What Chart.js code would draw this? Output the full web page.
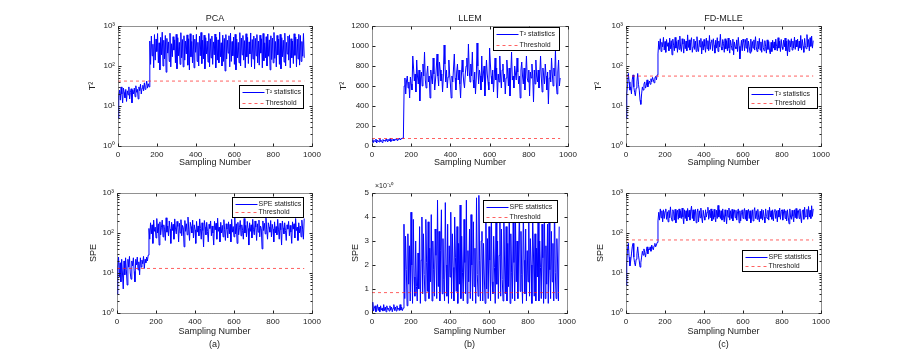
<!DOCTYPE html>
<html>
<head>
<meta charset="utf-8">
<script src="https://cdn.jsdelivr.net/npm/chart.js@4.4.1/dist/chart.umd.min.js"></script>
<style>
  html, body { margin: 0; padding: 0; background: #fff; }
  #fig { position: relative; width: 906px; height: 352px; overflow: hidden; }
  #fig canvas { position: absolute; }
</style>
</head>
<body>
<div id="fig"></div>
<script>
// one stored point every 4 samples; first 41 points = normal operation, the rest = fault
const SAMPLE_STEP = 4;

// --- T2 statistics -------------------------------------------------------
const pcaT2 = [
  5, 18, 25, 14, 30, 20, 12, 28, 22, 16,
  26, 13, 24, 19, 30, 15, 22, 27, 12, 25,
  20, 28, 17, 32, 22, 26, 15, 30, 24, 35,
  20, 28, 33, 24, 38, 26, 32, 42, 28, 36,
  30,
  420, 110, 560, 180, 350, 90, 610, 140, 470, 230,
  650, 120, 380, 80, 520, 190, 700, 100, 440, 150,
  580, 70, 490, 210, 400, 130, 660, 95, 360, 170,
  540, 250, 450, 120, 620, 85, 510, 180, 390, 110,
  680, 160, 460, 95, 570, 140, 420, 200, 600, 105,
  480, 80, 640, 170, 410, 120, 590, 90, 470, 220,
  620, 130, 390, 100, 560, 180, 690, 115, 440, 150,
  590, 85, 510, 200, 420, 125, 650, 95, 480, 160,
  560, 110, 400, 190, 630, 90, 520, 140, 450, 120,
  700, 170, 380, 100, 590, 130, 490, 75, 610, 150,
  440, 210, 570, 95, 660, 130, 410, 180, 530, 110,
  620, 80, 470, 160, 390, 120, 680, 100, 500, 190,
  580, 140, 430, 90, 640, 170, 520, 115, 400, 200,
  670, 95, 460, 150, 560, 85, 490, 180, 610, 120,
  420, 105, 590, 210, 480, 90, 650, 135, 380, 160,
  540, 100, 630, 175, 450, 80, 570, 145, 500, 120,
  690, 155, 410, 95, 580, 190, 470, 110, 620, 85,
  510, 170, 440, 125, 660, 100, 390, 200, 560, 140,
  600, 90, 480, 160, 420, 115, 640, 185, 530, 95,
  470, 150, 620, 105, 580, 130, 410, 175, 650, 160
];
const llemT2 = [
  40, 65, 35, 55, 45, 70, 30, 60, 50, 40,
  75, 45, 55, 35, 65, 50, 60, 45, 70, 55,
  40, 65, 50, 75, 45, 60, 55, 70, 50, 65,
  60, 75, 55, 70, 65, 80, 60, 75, 70, 80,
  75,
  600, 680, 520, 650, 700, 580, 640, 480, 690, 620,
  560, 900, 780, 650, 720, 540, 860, 700, 620, 760,
  450, 680, 740, 600, 820, 700, 940, 660, 580, 720,
  800, 640, 700, 480, 760, 680, 620, 880, 720, 560,
  660, 780, 920, 700, 600, 840, 760, 650, 720, 540,
  700, 1010, 820, 640, 760, 580, 690, 860, 720, 620,
  480, 700, 640, 780, 920, 680, 560, 740, 820, 660,
  760, 620, 480, 700, 860, 740, 640, 580, 720, 800,
  880, 700, 1020, 760, 640, 820, 700, 940, 660, 580,
  740, 520, 680, 1030, 800, 620, 760, 700, 560, 900,
  640, 720, 800, 500, 680, 860, 720, 640, 560, 980,
  820, 700, 620, 760, 540, 700, 880, 660, 780, 480,
  720, 640, 900, 700, 580, 760, 820, 640, 720, 520,
  680, 860, 740, 600, 780, 500, 720, 940, 660, 700,
  580, 800, 720, 660, 880, 740, 620, 700, 480, 760,
  840, 700, 620, 780, 560, 720, 900, 680, 640, 760,
  500, 740, 680, 820, 700, 440, 760, 620, 860, 700,
  640, 760, 580, 720, 900, 680, 540, 780, 700, 620,
  820, 700, 560, 740, 420, 680, 760, 640, 880, 720,
  600, 780, 700, 960, 640, 520, 740, 860, 600, 680
];
const fdT2 = [
  5, 20, 35, 65, 40, 25, 30, 20, 45, 60,
  30, 22, 18, 28, 40, 65, 35, 25, 14, 11,
  20, 30, 25, 35, 40, 28, 32, 45, 30, 38,
  42, 35, 48, 40, 52, 45, 38, 50, 55, 45,
  60,
  200, 420, 260, 480, 230, 390, 300, 520, 250, 410,
  220, 460, 310, 380, 240, 500, 270, 430, 190, 470,
  330, 240, 520, 280, 410, 220, 450, 260, 560, 300,
  230, 480, 350, 210, 460, 270, 420, 240, 600, 290,
  450, 250, 390, 510, 220, 300, 470, 260, 420, 230,
  540, 280, 230, 440, 300, 490, 200, 410, 250, 460,
  310, 220, 500, 270, 430, 240, 580, 260, 400, 450,
  240, 480, 330, 210, 440, 280, 510, 230, 420, 300,
  620, 300, 250, 460, 370, 220, 480, 270, 430, 240,
  500, 280, 210, 440, 330, 250, 470, 190, 400, 300,
  270, 450, 230, 520, 310, 150, 280, 440, 240, 470,
  390, 240, 460, 280, 500, 220, 420, 300, 210, 470,
  230, 410, 280, 450, 250, 540, 300, 230, 420, 270,
  490, 250, 400, 220, 460, 290, 240, 430, 310, 210,
  450, 260, 410, 240, 200, 390, 230, 440, 280, 400,
  250, 470, 310, 240, 510, 280, 420, 230, 460, 300,
  260, 440, 300, 500, 240, 420, 180, 460, 230, 430,
  300, 480, 250, 420, 280, 530, 260, 440, 300, 470,
  240, 420, 280, 580, 250, 460, 310, 220, 490, 320,
  270, 610, 300, 460, 240, 510, 310, 560, 280, 430
];

// --- SPE statistics ------------------------------------------------------
const pcaSPE = [
  3, 14, 25, 8, 18, 6, 22, 10, 4, 20,
  9, 24, 12, 5, 22, 14, 26, 10, 7, 20,
  15, 24, 11, 6, 22, 16, 25, 12, 19, 9,
  24, 14, 21, 17, 26, 13, 22, 18, 25, 20,
  28,
  130, 70, 180, 95, 160, 55, 210, 110, 140, 75,
  230, 100, 170, 50, 190, 90, 140, 210, 80, 160,
  120, 65, 240, 105, 150, 85, 200, 125, 55, 185,
  115, 165, 70, 225, 125, 95, 195, 145, 60, 175,
  100, 215, 85, 155, 135, 45, 205, 110, 170, 90,
  250, 125, 65, 185, 145, 100, 210, 75, 160, 120,
  55, 195, 105, 150, 85, 225, 130, 70, 180, 115,
  45, 205, 140, 90, 185, 110, 60, 165, 130, 200,
  85, 150, 100, 50, 195, 120, 175, 70, 235, 110,
  140, 60, 185, 100, 155, 80, 215, 120, 65, 170,
  125, 75, 190, 95, 165, 60, 220, 105, 145, 80,
  240, 95, 170, 55, 185, 90, 135, 205, 85, 160,
  115, 70, 230, 100, 155, 80, 195, 130, 50, 180,
  110, 160, 75, 220, 120, 90, 200, 140, 65, 170,
  105, 210, 80, 150, 130, 40, 200, 115, 175, 95,
  235, 120, 70, 180, 140, 105, 205, 80, 165, 125,
  60, 190, 100, 145, 90, 220, 125, 70, 175, 120,
  50, 200, 135, 95, 180, 115, 65, 160, 125, 195,
  85, 155, 105, 55, 190, 125, 170, 75, 230, 115,
  140, 65, 180, 100, 150, 80, 210, 125, 70, 230
];
const llemSPE = [
  0.1, 0.45, 0.08, 0.2, 0.3, 0.05, 0.15, 0.35, 0.1, 0.25,
  0.05, 0.3, 0.12, 0.2, 0.08, 0.35, 0.1, 0.25, 0.05, 0.3,
  0.15, 0.2, 0.08, 0.3, 0.12, 0.25, 0.05, 0.2, 0.35, 0.1,
  0.25, 0.08, 0.3, 0.15, 0.2, 0.1, 0.35, 0.12, 0.25, 0.1,
  0.2,
  3.7, 0.6, 3.2, 1.8, 0.3, 3.3, 1.2, 2.8, 0.5, 4.2,
  2.0, 0.4, 3.9, 1.5, 0.7, 3.0, 1.1, 0.5, 2.5, 1.0,
  3.6, 0.4, 2.2, 4.0, 0.8, 3.3, 1.6, 0.5, 3.9, 2.1,
  0.9, 3.8, 0.6, 2.7, 1.3, 4.1, 0.5, 3.0, 1.8, 0.7,
  3.5, 2.4, 0.6, 4.7, 1.1, 3.4, 0.5, 2.6, 4.3, 0.8,
  3.1, 1.4, 0.5, 4.6, 2.0, 0.7, 3.7, 0.4, 2.8, 1.5,
  4.2, 0.6, 3.3, 1.9, 0.5, 4.0, 2.3, 0.9, 3.6, 0.4,
  2.9, 1.2, 4.5, 0.6, 3.2, 1.7, 0.5, 3.9, 2.1, 0.8,
  4.7, 0.4, 2.6, 1.3, 3.5, 0.6, 4.1, 2.0, 0.5, 3.8,
  1.1, 2.7, 0.4, 4.8, 1.6, 0.7, 4.9, 2.2, 0.5, 3.0,
  3.4, 0.5, 2.9, 1.5, 0.4, 4.0, 1.0, 3.1, 0.6, 3.6,
  2.2, 0.5, 4.4, 1.3, 0.8, 3.2, 1.9, 0.4, 4.6, 1.2,
  3.0, 0.6, 2.4, 3.9, 0.7, 3.5, 1.4, 0.5, 4.2, 2.0,
  0.8, 3.6, 0.5, 2.9, 1.1, 4.5, 0.4, 3.3, 1.7, 0.6,
  4.1, 2.1, 0.5, 3.8, 1.3, 3.0, 0.6, 2.5, 4.4, 0.9,
  3.4, 1.6, 0.4, 4.3, 2.2, 0.8, 3.5, 0.5, 2.6, 1.3,
  3.9, 0.7, 3.1, 2.0, 0.4, 4.1, 2.5, 0.7, 3.3, 0.5,
  2.7, 1.5, 4.3, 0.5, 3.0, 1.9, 0.6, 3.7, 2.3, 0.4,
  4.5, 0.6, 2.8, 1.2, 3.7, 0.4, 3.9, 1.8, 0.6, 3.4,
  1.3, 2.9, 0.5, 4.7, 1.7, 0.6, 3.1, 2.0, 0.5, 3.6
];
const fdSPE = [
  5, 18, 40, 55, 25, 15, 20, 30, 45, 55,
  25, 18, 15, 22, 30, 45, 28, 20, 14, 18,
  25, 35, 28, 40, 32, 25, 35, 45, 30, 40,
  38, 45, 35, 50, 42, 38, 48, 55, 45, 50,
  58,
  200, 330, 210, 400, 240, 360, 190, 380, 230, 350,
  400, 220, 340, 190, 370, 240, 450, 250, 200, 380,
  340, 210, 390, 180, 330, 370, 220, 400, 240, 360,
  230, 420, 250, 170, 380, 230, 360, 200, 410, 250,
  370, 210, 350, 470, 230, 380, 200, 340, 390, 180,
  330, 400, 190, 360, 240, 420, 250, 180, 370, 260,
  210, 380, 250, 330, 440, 220, 370, 240, 400, 200,
  350, 220, 390, 250, 190, 370, 230, 490, 250, 380,
  230, 360, 210, 400, 250, 190, 380, 260, 170, 370,
  250, 420, 210, 360, 230, 390, 200, 350, 380, 240,
  370, 210, 340, 400, 180, 360, 200, 330, 380, 230,
  350, 410, 220, 370, 200, 340, 390, 230, 360, 180,
  250, 380, 200, 350, 430, 230, 360, 220, 390, 250,
  190, 350, 230, 390, 210, 370, 250, 180, 400, 260,
  230, 370, 210, 440, 250, 360, 220, 380, 200, 350,
  390, 230, 360, 190, 370, 250, 420, 220, 350, 380,
  210, 340, 390, 230, 360, 200, 380, 250, 170, 400,
  250, 220, 370, 260, 190, 380, 240, 410, 230, 360,
  370, 230, 400, 250, 180, 360, 380, 220, 440, 250,
  260, 390, 220, 460, 250, 370, 230, 480, 260, 400
];

// control limits (threshold lines)
const thresholds = { pcaT2: 42, llemT2: 75, fdT2: 56, pcaSPE: 13, llemSPE: 0.85, fdSPE: 67 };
const thresholdEnd = 960;

// tick labels
const xTicks = [0, 200, 400, 600, 800, 1000];
const logTicks = [1, 10, 100, 1000];
const logTickLabels = ['10\u2070', '10\u00b9', '10\u00b2', '10\u00b3'];

// ------------------------------------------------------------------------
const FONT = '"Liberation Sans", Arial, sans-serif';
const TXT = '#222';
const BLUE = '#0000ff';
const RED = 'rgba(255,30,30,0.7)';

// plot = [left, top, width, height] of each axes box on the page
const panels = [
  { key: 'pcaT2', values: pcaT2, title: 'PCA', yLabel: 'T\u00b2', series: 'T\u00b2 statistics',
    log: true, plot: [118, 26, 194, 120], axisW: 31, legend: [121, 59, 64, 23], row: 0 },
  { key: 'llemT2', values: llemT2, title: 'LLEM', yLabel: 'T\u00b2', series: 'T\u00b2 statistics',
    log: false, yMax: 1200, yStep: 200, plot: [372, 26, 196, 120], axisW: 34, legend: [121, 1, 66, 23], row: 0 },
  { key: 'fdT2', values: fdT2, title: 'FD-MLLE', yLabel: 'T\u00b2', series: 'T\u00b2 statistics',
    log: true, plot: [626, 26, 195, 120], axisW: 33, legend: [122, 61, 69, 21], row: 0 },
  { key: 'pcaSPE', values: pcaSPE, tag: '(a)', yLabel: 'SPE', series: 'SPE statistics',
    log: true, plot: [117, 193, 195, 120], axisW: 29, legend: [115, 4, 71, 20], row: 1 },
  { key: 'llemSPE', values: llemSPE, tag: '(b)', yLabel: 'SPE', series: 'SPE statistics',
    log: false, yMax: 5, yStep: 1, note: '\u00d710\u207b\u00b9\u2070', plot: [372, 193, 195, 120], axisW: 22, legend: [111, 7, 74, 22], row: 1 },
  { key: 'fdSPE', values: fdSPE, tag: '(c)', yLabel: 'SPE', series: 'SPE statistics',
    log: true, plot: [626, 193, 195, 120], axisW: 31, legend: [116, 57, 75, 21], row: 1 }
];

const TOP_PAD = 26, RIGHT_PAD = 14;

function framePlugin(p) {
  return {
    id: 'matlabFrame',
    afterDraw(chart) {
      const { ctx, chartArea: a, scales } = chart;
      const L = Math.round(a.left) + 0.5, T = Math.round(a.top) + 0.5;
      const R = Math.round(a.right) + 0.5, B = Math.round(a.bottom) + 0.5;
      ctx.save();
      ctx.lineWidth = 1;
      ctx.strokeStyle = '#222';
      const seg = (x1, y1, x2, y2) => { ctx.beginPath(); ctx.moveTo(x1, y1); ctx.lineTo(x2, y2); ctx.stroke(); };

      // inward tick marks
      scales.x.ticks.forEach(t => {
        const px = Math.round(scales.x.getPixelForValue(t.value)) + 0.5;
        seg(px, B, px, B - 3); seg(px, T, px, T + 3);
      });
      const ys = scales.y;
      ys.ticks.forEach(t => {
        const py = Math.round(ys.getPixelForValue(t.value)) + 0.5;
        seg(L, py, L + 3, py); seg(R, py, R - 3, py);
      });
      if (p.log) {
        [1, 10, 100].forEach(d => {
          for (let m = 2; m <= 9; m++) {
            const py = Math.round(ys.getPixelForValue(d * m)) + 0.5;
            seg(L, py, L + 2, py); seg(R, py, R - 2, py);
          }
        });
      }

      // axes box
      ctx.setLineDash([1, 1]);
      ctx.strokeRect(L, T, R - L, B - T);
      ctx.setLineDash([]);

      // panel title / exponent note
      ctx.fillStyle = TXT;
      ctx.textBaseline = 'middle';
      if (p.title) {
        ctx.font = '9px ' + FONT;
        ctx.textAlign = 'center';
        ctx.fillText(p.title, (a.left + a.right) / 2, a.top - 7);
      }
      if (p.note) {
        ctx.font = '7px ' + FONT;
        ctx.textAlign = 'left';
        ctx.fillText(p.note, a.left + 3, a.top - 7);
      }

      // legend box
      const [lx, ly, lw, lh] = p.legend;
      const bx = Math.round(a.left + lx) + 0.5, by = Math.round(a.top + ly) + 0.5;
      ctx.fillStyle = '#fff';
      ctx.fillRect(bx, by, lw, lh);
      ctx.strokeStyle = '#000';
      ctx.strokeRect(bx, by, lw, lh);
      const r1 = Math.round(by + lh * 0.3) + 0.5, r2 = Math.round(by + lh * 0.74) + 0.5;
      ctx.strokeStyle = BLUE;
      seg(bx + 3, r1, bx + 25, r1);
      ctx.strokeStyle = RED;
      ctx.setLineDash([3, 3]);
      seg(bx + 3, r2, bx + 25, r2);
      ctx.setLineDash([]);
      ctx.fillStyle = TXT;
      ctx.font = '7px ' + FONT;
      ctx.textAlign = 'left';
      ctx.fillText(p.series, bx + 26, r1);
      ctx.fillText('Threshold', bx + 26, r2);
      ctx.restore();
    }
  };
}

const fig = document.getElementById('fig');

panels.forEach(p => {
  const [pl, pt, pw, ph] = p.plot;
  const xH = p.row === 0 ? 23 : 38;
  const cw = p.axisW + pw + RIGHT_PAD;
  const ch = TOP_PAD + ph + xH;
  const canvas = document.createElement('canvas');
  canvas.width = cw; canvas.height = ch;
  canvas.style.left = (pl - p.axisW) + 'px';
  canvas.style.top = (pt - TOP_PAD) + 'px';
  canvas.style.width = cw + 'px';
  canvas.style.height = ch + 'px';
  fig.appendChild(canvas);

  const tickFont = { family: FONT, size: 8 };
  const yScale = p.log ? {
    type: 'logarithmic', min: 1, max: 1000,
    afterBuildTicks: s => { s.ticks = logTicks.map(v => ({ value: v })); },
    ticks: { font: tickFont, color: TXT, padding: 3,
      callback: v => logTickLabels[logTicks.indexOf(v)] }
  } : {
    type: 'linear', min: 0, max: p.yMax,
    ticks: { stepSize: p.yStep, font: tickFont, color: TXT, padding: 3, callback: v => String(v) }
  };
  Object.assign(yScale, {
    grid: { display: false, drawTicks: false },
    border: { display: false },
    title: { display: true, text: p.yLabel, color: TXT, font: { family: FONT, size: 9 }, padding: 0 },
    afterFit: s => { s.width = p.axisW; }
  });

  new Chart(canvas, {
    type: 'line',
    data: {
      datasets: [
        {
          label: 'Threshold',
          data: [{ x: 0, y: thresholds[p.key] }, { x: thresholdEnd, y: thresholds[p.key] }],
          borderColor: RED,
          borderDash: [3, 3],
          borderWidth: 1,
          pointRadius: 0
        },
        {
          label: p.series,
          data: p.values.map((v, i) => ({ x: i * SAMPLE_STEP, y: v })),
          borderColor: BLUE,
          borderWidth: 1,
          pointRadius: 0,
          tension: 0
        }
      ]
    },
    options: {
      responsive: false,
      animation: false,
      devicePixelRatio: 1,
      layout: { padding: { left: 0, right: RIGHT_PAD, top: TOP_PAD, bottom: 0 } },
      plugins: { legend: { display: false }, tooltip: { enabled: false }, title: { display: false } },
      scales: {
        x: {
          type: 'linear', min: 0, max: 1000,
          afterBuildTicks: s => { s.ticks = xTicks.map(v => ({ value: v })); },
          ticks: { font: tickFont, color: TXT, padding: 4, maxRotation: 0, callback: v => String(v) },
          grid: { display: false, drawTicks: false },
          border: { display: false },
          title: {
            display: true,
            text: p.tag ? ['Sampling Number', p.tag] : 'Sampling Number',
            color: TXT,
            font: { family: FONT, size: 9, lineHeight: 1.45 },
            padding: 0
          },
          afterFit: s => { s.height = xH; }
        },
        y: yScale
      }
    },
    plugins: [framePlugin(p)]
  });
});
</script>
</body>
</html>
